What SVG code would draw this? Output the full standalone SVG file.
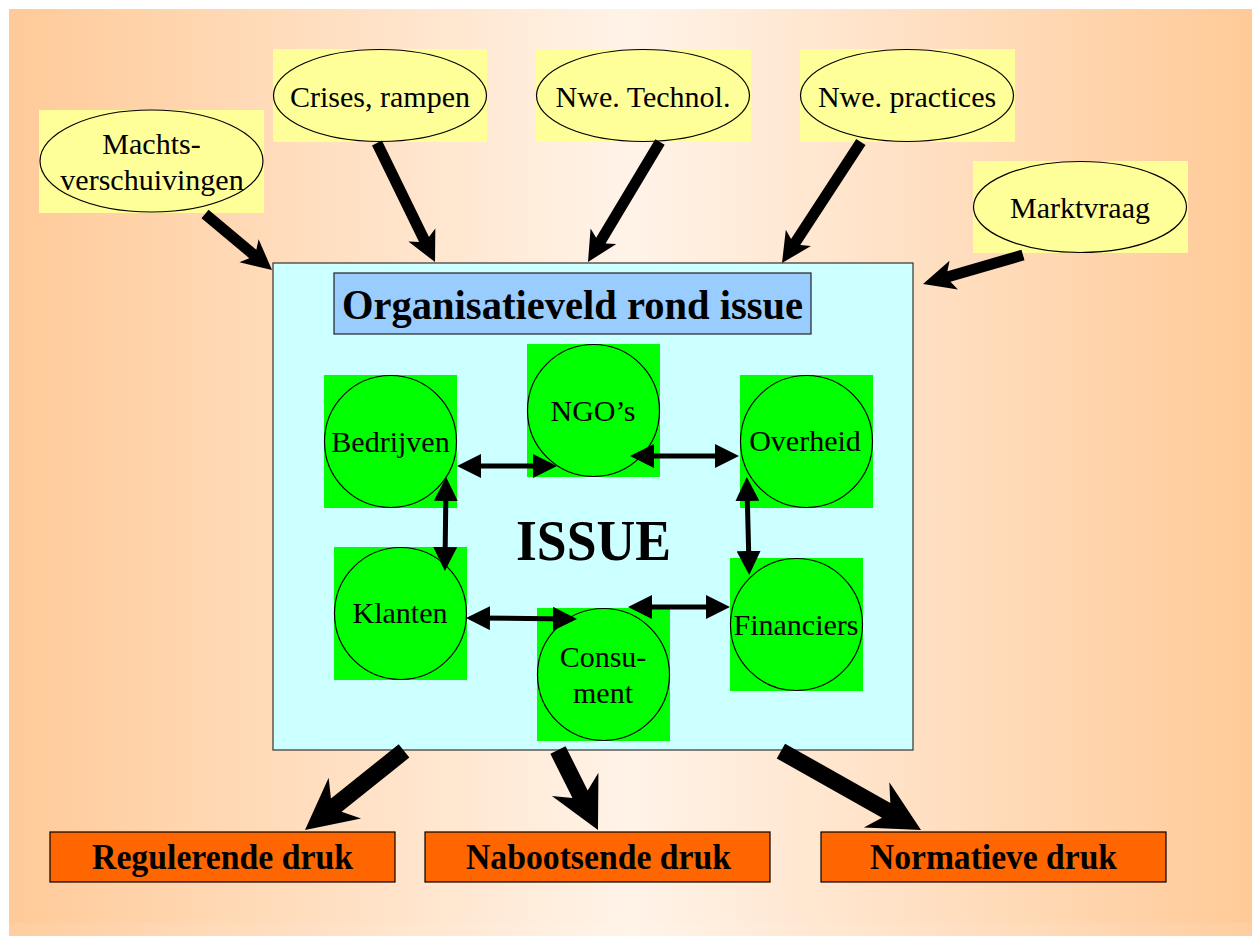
<svg xmlns="http://www.w3.org/2000/svg" width="1252" height="936" viewBox="0 0 1252 936">
<defs>
<linearGradient id="bg" x1="0" y1="0" x2="1" y2="0">
<stop offset="0" stop-color="#FFCA98"/>
<stop offset="0.5" stop-color="#FFF3E8"/>
<stop offset="1" stop-color="#FFCA98"/>
</linearGradient>
<marker id="dh" markerUnits="userSpaceOnUse" markerWidth="24" markerHeight="24" viewBox="0 -12 24 24" refX="14" refY="0" orient="auto-start-reverse">
<path d="M0,-12 L24,0 L0,12 Z" fill="#000"/>
</marker>
<style>
.lbl{font-family:"Liberation Serif","Times New Roman",serif;font-size:30px;fill:#000;text-anchor:middle}
.bold{font-family:"Liberation Serif","Times New Roman",serif;font-weight:bold;fill:#000;text-anchor:middle}
.yb{fill:#FFFF99}
.ell{fill:#FFFF99;stroke:#000;stroke-width:1.2}
.gb{fill:#00FF00}
.circ{fill:#00FF00;stroke:#000;stroke-width:1.2}
.dbl{stroke:#000;stroke-width:5;fill:none;marker-start:url(#dh);marker-end:url(#dh)}
.big{fill:#000}
.press{fill:#FF6600;stroke:#000;stroke-width:1.2}
</style>
</defs>
<rect x="0" y="0" width="1252" height="936" fill="#FFFFFF"/>
<rect x="9" y="9" width="1243" height="927" fill="url(#bg)"/>
<rect x="9" y="923" width="1243" height="13" fill="#FFFFFF" opacity="0.08"/>

<g id="organisatieveld">
<rect x="273" y="263" width="640" height="487" fill="#CCFFFF" stroke="#333" stroke-width="1.2"/>
</g>
<g id="titel">
<rect x="334" y="273" width="477" height="61" fill="#99CCFF" stroke="#222" stroke-width="1.2"/>
<text class="bold" x="572.5" y="319" font-size="43" textLength="461" lengthAdjust="spacingAndGlyphs">Organisatieveld rond issue</text>
</g>
<g id="issue">
<text class="bold" x="593.5" y="560" font-size="58" textLength="155" lengthAdjust="spacingAndGlyphs">ISSUE</text>
</g>

<g id="machts">
<rect class="yb" x="39" y="110" width="225" height="103"/>
<ellipse class="ell" cx="151.5" cy="161" rx="111.5" ry="51"/>
<text class="lbl" x="151.5" y="154">Machts-</text>
<text class="lbl" x="152" y="190">verschuivingen</text>
</g>
<g id="crises">
<rect class="yb" x="273" y="49" width="214" height="93"/>
<ellipse class="ell" cx="380" cy="95.5" rx="106.5" ry="46"/>
<text class="lbl" x="380" y="107">Crises, rampen</text>
</g>
<g id="technol">
<rect class="yb" x="536" y="49" width="215" height="93"/>
<ellipse class="ell" cx="643" cy="95.5" rx="106.5" ry="46"/>
<text class="lbl" x="643" y="107">Nwe. Technol.</text>
</g>
<g id="practices">
<rect class="yb" x="800" y="49" width="215" height="93"/>
<ellipse class="ell" cx="907" cy="95.5" rx="106.5" ry="46"/>
<text class="lbl" x="907" y="107">Nwe. practices</text>
</g>
<g id="marktvraag">
<rect class="yb" x="973" y="161" width="215" height="92"/>
<ellipse class="ell" cx="1080" cy="207" rx="106.5" ry="45.5"/>
<text class="lbl" x="1080" y="218">Marktvraag</text>
</g>

<g id="bedrijven">
<rect class="gb" x="324" y="375" width="133" height="133"/>
<circle class="circ" cx="390.5" cy="441.5" r="66"/>
<text class="lbl" x="390.5" y="452">Bedrijven</text>
</g>
<g id="ngos">
<rect class="gb" x="527" y="344" width="133" height="133"/>
<circle class="circ" cx="593.5" cy="410.5" r="66"/>
<text class="lbl" x="593" y="421">NGO’s</text>
</g>
<g id="overheid">
<rect class="gb" x="740" y="375" width="133" height="133"/>
<circle class="circ" cx="806.5" cy="441.5" r="66"/>
<text class="lbl" x="805" y="451">Overheid</text>
</g>
<g id="klanten">
<rect class="gb" x="334" y="547" width="133" height="133"/>
<circle class="circ" cx="400.5" cy="613.5" r="66"/>
<text class="lbl" x="400" y="623">Klanten</text>
</g>
<g id="consument">
<rect class="gb" x="537" y="608" width="133" height="133"/>
<circle class="circ" cx="603.5" cy="674.5" r="66"/>
<text class="lbl" x="603" y="667">Consu-</text>
<text class="lbl" x="603" y="703">ment</text>
</g>
<g id="financiers">
<rect class="gb" x="730" y="558" width="133" height="133"/>
<circle class="circ" cx="796.5" cy="624.5" r="66"/>
<text class="lbl" x="796" y="635">Financiers</text>
</g>

<g id="regulerende">
<rect class="press" x="50" y="832" width="345" height="50"/>
<text class="bold" x="222.5" y="869" font-size="36" textLength="261" lengthAdjust="spacingAndGlyphs">Regulerende druk</text>
</g>
<g id="nabootsende">
<rect class="press" x="425" y="832" width="345" height="50"/>
<text class="bold" x="598.5" y="869" font-size="36" textLength="265" lengthAdjust="spacingAndGlyphs">Nabootsende druk</text>
</g>
<g id="normatieve">
<rect class="press" x="821" y="832" width="345" height="50"/>
<text class="bold" x="993.5" y="869" font-size="36" textLength="247" lengthAdjust="spacingAndGlyphs">Normatieve druk</text>
</g>

<g id="connectors">
<path class="big" transform="translate(272,270) rotate(39.9)" d="M0,0 L-30,-15 L-25,-5.5 L-87.3,-5.5 L-87.3,5.5 L-25,5.5 L-30,15 Z"/>
<path class="big" transform="translate(435,262) rotate(64)" d="M0,0 L-30,-15 L-25,-5.5 L-132.4,-5.5 L-132.4,5.5 L-25,5.5 L-30,15 Z"/>
<path class="big" transform="translate(588,262) rotate(120.96)" d="M0,0 L-30,-15 L-25,-5.5 L-139.9,-5.5 L-139.9,5.5 L-25,5.5 L-30,15 Z"/>
<path class="big" transform="translate(782,263) rotate(123.1)" d="M0,0 L-30,-15 L-25,-5.5 L-144.5,-5.5 L-144.5,5.5 L-25,5.5 L-30,15 Z"/>
<path class="big" transform="translate(923,284) rotate(163.8)" d="M0,0 L-32,-15 L-27,-5.5 L-104.1,-5.5 L-104.1,5.5 L-27,5.5 L-32,15 Z"/>
<path class="big" transform="translate(305,830) rotate(141.4)" d="M0,0 L-51,-26 L-40,-8.5 L-126.7,-8.5 L-126.7,8.5 L-40,8.5 L-51,26 Z"/>
<path class="big" transform="translate(598,830) rotate(63.4)" d="M0,0 L-51,-26 L-40,-8.5 L-89.4,-8.5 L-89.4,8.5 L-40,8.5 L-51,26 Z"/>
<path class="big" transform="translate(921,830) rotate(29.4)" d="M0,0 L-51,-26 L-40,-8.5 L-160.8,-8.5 L-160.8,8.5 L-40,8.5 L-51,26 Z"/>
<line class="dbl" x1="467" y1="466" x2="547" y2="466"/>
<line class="dbl" x1="640" y1="456" x2="729" y2="456"/>
<line class="dbl" x1="446" y1="487" x2="445" y2="561"/>
<line class="dbl" x1="747" y1="487" x2="749" y2="565"/>
<line class="dbl" x1="476" y1="618" x2="567" y2="619"/>
<line class="dbl" x1="638" y1="607" x2="720" y2="607"/>
</g>
</svg>
